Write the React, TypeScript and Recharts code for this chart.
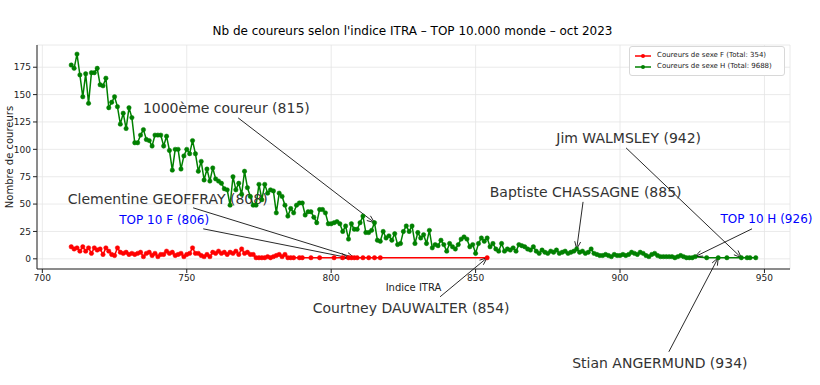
import {
  CartesianGrid,
  Legend,
  Line,
  LineChart,
  ReferenceDot,
  ReferenceLine,
  XAxis,
  YAxis,
} from 'recharts';

const font = '"DejaVu Sans", sans-serif';

// hommes : un point par indice de 710 à 926, puis les derniers isolés
const hommesStart = 710;
const hommesNb = [
  177, 174, 187, 168, 148, 169, 142, 170, 170, 174, 159, 158, 165, 138, 143, 148, 139, 123, 133, 119,
  138, 129, 106, 106, 113, 118, 109, 108, 103, 113, 113, 113, 103, 112, 99, 81, 100, 100, 82, 94,
  100, 96, 108, 96, 80, 89, 72, 82, 71, 83, 73, 71, 69, 64, 63, 49, 75, 63, 69, 59,
  80, 65, 57, 49, 49, 68, 54, 68, 60, 63, 62, 42, 60, 57, 49, 39, 46, 42, 49, 51,
  51, 40, 43, 43, 38, 33, 45, 45, 42, 32, 32, 33, 34, 32, 25, 30, 18, 32, 27, 27,
  33, 39, 24, 24, 26, 33, 17, 16, 25, 19, 21, 17, 23, 13, 14, 25, 30, 25, 30, 14,
  24, 19, 22, 14, 26, 10, 13, 12, 17, 13, 7, 14, 11, 9, 13, 18, 20, 18, 11, 13,
  5, 14, 19, 16, 19, 11, 14, 9, 7, 14, 7, 9, 8, 10, 7, 13, 12, 11, 9, 8,
  11, 7, 5, 8, 6, 5, 7, 6, 8, 5, 6, 7, 5, 6, 7, 9, 6, 7, 5, 6,
  9, 5, 4, 3, 3, 4, 3, 2, 4, 3, 3, 4, 3, 4, 6, 5, 4, 6, 5, 3,
  2, 4, 5, 3, 2, 2, 2, 2, 2, 1, 2, 3, 2, 1, 1, 1, 2,
];
const hommesTailItra = [930, 934, 937, 942, 944, 945, 947];
const hommesTailNb = [1, 1, 1, 1, 1, 1, 1];

// femmes : un point par indice de 710 à 787, puis isolés
const femmesStart = 710;
const femmesNb = [
  11, 9, 10, 7, 11, 7, 10, 5, 10, 8, 9, 4, 10, 7, 4, 3, 10, 6, 5, 6,
  4, 5, 4, 5, 6, 2, 5, 6, 3, 5, 2, 4, 4, 7, 5, 6, 3, 4, 5, 2,
  4, 5, 10, 5, 5, 3, 2, 4, 2, 6, 5, 7, 5, 6, 4, 6, 5, 7, 4, 9,
  5, 6, 4, 4, 1, 1, 1, 1, 2, 1, 2, 3, 4, 2, 4, 1, 1, 1,
];
const femmesTailItra = [789, 790, 793, 796, 801, 804, 806, 807, 808, 809, 811, 813, 815, 817, 854];
const femmesTailNb = [1, 1, 1, 1, 1, 1, 1, 1, 1, 1, 1, 1, 1, 1, 1];

const xTicks = [700, 750, 800, 850, 900, 950];
const yTicks = [0, 25, 50, 75, 100, 125, 150, 175];

// annotations : texte, position du texte, départ de la flèche, point visé
const notes = [
  { text: '1000ème coureur (815)', color: '#333', size: 14, tx: 763.7, ty: 137.8, ax: 767.8, ay: 128.7, px: 815, py: 33 },
  { text: 'Clementine GEOFFRAY (808)', color: '#333', size: 14, tx: 743.4, ty: 54.8, ax: 752.2, ay: 46.6, px: 808, py: 1 },
  { text: 'TOP 10 F (806)', color: 'blue', size: 12, tx: 742.2, ty: 35.6, ax: 755.7, ay: 27.4, px: 806, py: 1 },
  { text: 'Baptiste CHASSAGNE (885)', color: '#333', size: 14, tx: 888.1, ty: 61.2, ax: 887.2, ay: 52, px: 885, py: 9 },
  { text: 'Jim WALMSLEY (942)', color: '#333', size: 14, tx: 903, ty: 110.5, ax: 902.1, ay: 101.3, px: 942, py: 1 },
  { text: 'TOP 10 H (926)', color: 'blue', size: 12, tx: 950.7, ty: 36.5, ax: 945.7, ay: 27.4, px: 926, py: 2 },
  { text: 'Courtney DAUWALTER (854)', color: '#333', size: 14, tx: 827.7, ty: -44.7, ax: 837.7, ay: -34.7, px: 854, py: 1 },
  { text: 'Stian ANGERMUND (934)', color: '#333', size: 14, tx: 913.8, ty: -94.9, ax: 916.9, ay: -84.9, px: 934, py: 1 },
];

const hommes = [
  ...hommesNb.map((n, i) => ({ itra: hommesStart + i, nb: n })),
  ...hommesTailItra.map((v, i) => ({ itra: v, nb: hommesTailNb[i] })),
];
const femmes = [
  ...femmesNb.map((n, i) => ({ itra: femmesStart + i, nb: n })),
  ...femmesTailItra.map((v, i) => ({ itra: v, nb: femmesTailNb[i] })),
];

const Arrow = (p: any) => {
  const { x1, y1, x2, y2 } = p;
  const ang = Math.atan2(y2 - y1, x2 - x1);
  const len = 8;
  const spread = 0.38;
  const h1x = x2 - len * Math.cos(ang - spread);
  const h1y = y2 - len * Math.sin(ang - spread);
  const h2x = x2 - len * Math.cos(ang + spread);
  const h2y = y2 - len * Math.sin(ang + spread);
  return (
    <g stroke="#111" strokeWidth={0.9} fill="none">
      <line x1={x1} y1={y1} x2={x2} y2={y2} />
      <polyline points={`${h1x},${h1y} ${x2},${y2} ${h2x},${h2y}`} />
    </g>
  );
};

const legendItems = [
  { label: 'Coureurs de sexe F (Total: 354)', color: 'red' },
  { label: 'Coureurs de sexe H (Total: 9688)', color: 'green' },
];

const LegendBox = () => (
  <div
    style={{
      border: '1px solid #d8d8d8',
      borderRadius: 3,
      background: 'white',
      padding: '3px 4px',
      fontFamily: font,
      fontSize: 7,
      color: '#222',
      lineHeight: '11px',
    }}
  >
    {legendItems.map((it) => (
      <div key={it.label} style={{ display: 'flex', alignItems: 'center' }}>
        <svg width={18} height={8} style={{ marginRight: 5 }}>
          <line x1={1} y1={4} x2={17} y2={4} stroke={it.color} strokeWidth={1.5} />
          <circle cx={9} cy={4} r={2} fill={it.color} />
        </svg>
        <span>{it.label}</span>
      </div>
    ))}
  </div>
);

export default function App() {
  return (
    <div style={{ position: 'absolute', left: 0, top: 0, width: 820, height: 385, background: 'white', fontFamily: font }}>
      <div
        style={{
          position: 'absolute',
          left: 0,
          width: 825,
          top: 24,
          textAlign: 'center',
          fontSize: 12,
          color: '#000',
        }}
      >
        Nb de coureurs selon l'indice ITRA – TOP 10.000 monde – oct 2023
      </div>
      <LineChart width={820} height={385} data={hommes} margin={{ top: 45, right: 30, bottom: 86, left: 0 }}>
        <CartesianGrid stroke="#e4e4e4" strokeWidth={0.8} />
        <XAxis
          dataKey="itra"
          type="number"
          domain={[698.15, 958.85]}
          allowDataOverflow
          ticks={xTicks}
          height={30}
          tickSize={4}
          tickMargin={2}
          tick={{ fontSize: 9, fill: '#222', fontFamily: font }}
          tickLine={{ stroke: '#222' }}
          axisLine={{ stroke: '#222' }}
          label={{
            content: ({ viewBox }: any) => (
              <text
                x={viewBox.x + viewBox.width / 2}
                y={viewBox.y + 18}
                textAnchor="middle"
                dominantBaseline="central"
                fontSize={10}
                fill="#222"
                fontFamily={font}
              >
                Indice ITRA
              </text>
            ),
          }}
        />
        <YAxis
          type="number"
          domain={[-9.3, 195.3]}
          allowDataOverflow
          ticks={yTicks}
          width={37}
          tickSize={4}
          tickMargin={2}
          tick={{ fontSize: 9, fill: '#222', fontFamily: font }}
          tickLine={{ stroke: '#222' }}
          axisLine={{ stroke: '#222' }}
          label={{
            content: ({ viewBox }: any) => {
              const cx = viewBox.x + 9;
              const cy = viewBox.y + viewBox.height / 2;
              return (
                <text
                  x={cx}
                  y={cy}
                  transform={`rotate(-90, ${cx}, ${cy})`}
                  textAnchor="middle"
                  dominantBaseline="central"
                  fontSize={10}
                  fill="#222"
                  fontFamily={font}
                >
                  Nombre de coureurs
                </text>
              );
            },
          }}
        />
        <Legend
          layout="horizontal"
          verticalAlign="middle"
          align="center"
          wrapperStyle={{ left: 629, top: 46, width: 156, height: 28 }}
          content={() => <LegendBox />}
        />
        <Line
          data={femmes}
          dataKey="nb"
          name="F"
          stroke="red"
          strokeWidth={1.5}
          dot={{ r: 2.2, fill: 'red', stroke: 'red', strokeWidth: 0.5 }}
          isAnimationActive={false}
        />
        <Line
          data={hommes}
          dataKey="nb"
          name="H"
          stroke="green"
          strokeWidth={1.5}
          dot={{ r: 2.2, fill: 'green', stroke: 'green', strokeWidth: 0.5 }}
          isAnimationActive={false}
        />
        {notes.map((n) => (
          <ReferenceLine
            key={'a' + n.text}
            segment={[
              { x: n.ax, y: n.ay },
              { x: n.px, y: n.py },
            ]}
            ifOverflow="visible"
            shape={Arrow}
          />
        ))}
        {notes.map((n) => (
          <ReferenceDot
            key={'t' + n.text}
            x={n.tx}
            y={n.ty}
            ifOverflow="visible"
            shape={(p: any) => (
              <text
                x={p.cx}
                y={p.cy}
                textAnchor="middle"
                dominantBaseline="central"
                fontSize={n.size}
                fill={n.color}
                fontFamily={font}
              >
                {n.text}
              </text>
            )}
          />
        ))}
      </LineChart>
    </div>
  );
}
